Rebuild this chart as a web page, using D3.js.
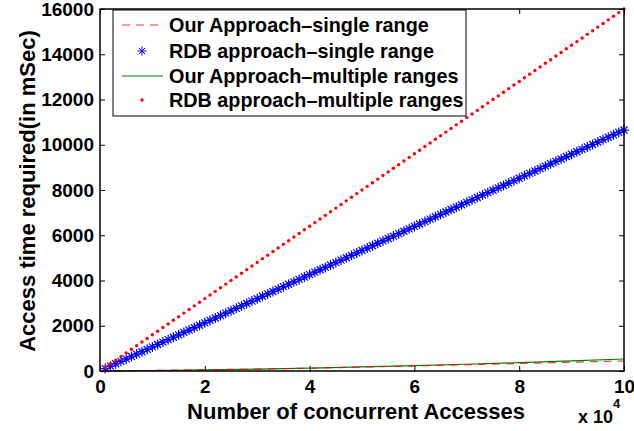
<!DOCTYPE html>
<html>
<head>
<meta charset="utf-8">
<script src="https://cdn.jsdelivr.net/npm/d3@7"></script>
<style>
body{margin:0;background:#fff}
text{font-family:"Liberation Sans",Arial,Helvetica,sans-serif;font-weight:bold;fill:#000}
</style>
</head>
<body>
<svg id="chart" width="634" height="431"></svg>
<script>
// number of concurrent accesses for the marker series
var accesses = [1000,2000,3000,4000,5000,6000,7000,8000,9000,10000,
    11000,12000,13000,14000,15000,16000,17000,18000,19000,20000,
    21000,22000,23000,24000,25000,26000,27000,28000,29000,30000,
    31000,32000,33000,34000,35000,36000,37000,38000,39000,40000,
    41000,42000,43000,44000,45000,46000,47000,48000,49000,50000,
    51000,52000,53000,54000,55000,56000,57000,58000,59000,60000,
    61000,62000,63000,64000,65000,66000,67000,68000,69000,70000,
    71000,72000,73000,74000,75000,76000,77000,78000,79000,80000,
    81000,82000,83000,84000,85000,86000,87000,88000,89000,90000,
    91000,92000,93000,94000,95000,96000,97000,98000,99000,100000]
var rdbSingle = [107,213,320,426,533,639,746,852,959,1065,
    1172,1278,1385,1491,1598,1704,1811,1917,2024,2130,
    2237,2343,2450,2556,2663,2769,2876,2982,3089,3195,
    3302,3408,3515,3621,3728,3834,3941,4047,4154,4260,
    4367,4473,4580,4686,4793,4899,5006,5112,5219,5325,
    5432,5538,5645,5751,5858,5964,6071,6177,6284,6390,
    6497,6603,6710,6816,6923,7029,7136,7242,7349,7455,
    7562,7668,7775,7881,7988,8094,8201,8307,8414,8520,
    8627,8733,8840,8946,9053,9159,9266,9372,9479,9585,
    9692,9798,9905,10011,10118,10224,10331,10437,10544,10650]
var rdbMultiple = [160,320,480,640,800,960,1120,1280,1440,1600,
    1760,1920,2080,2240,2400,2560,2720,2880,3040,3200,
    3360,3520,3680,3840,4000,4160,4320,4480,4640,4800,
    4960,5120,5280,5440,5600,5760,5920,6080,6240,6400,
    6560,6720,6880,7040,7200,7360,7520,7680,7840,8000,
    8160,8320,8480,8640,8800,8960,9120,9280,9440,9600,
    9760,9920,10080,10240,10400,10560,10720,10880,11040,11200,
    11360,11520,11680,11840,12000,12160,12320,12480,12640,12800,
    12960,13120,13280,13440,13600,13760,13920,14080,14240,14400,
    14560,14720,14880,15040,15200,15360,15520,15680,15840,16000]
// line series (our approach)
var lineAccesses = [0,10000,20000,30000,40000,50000,60000,70000,80000,90000,100000]
var oursSingle = [0,22,50,84,125,172,225,280,335,390,442]
var oursMultiple = [0,22,51,86,129,179,235,298,369,446,530]

var xTicks = [0,20000,40000,60000,80000,100000]
var xTickLabels = ["0","2","4","6","8","10"]
var yTicks = [0,2000,4000,6000,8000,10000,12000,14000,16000]
var legendNames = ["Our Approach\u2013single range","RDB approach\u2013single range",
    "Our Approach\u2013multiple ranges","RDB approach\u2013multiple ranges"]

var margin = {left:100,top:9,right:10,bottom:60}
var w = 634-margin.left-margin.right
var h = 431-margin.top-margin.bottom

var svg = d3.select("#chart")
var g = svg.append("g").attr("transform","translate("+margin.left+","+margin.top+")")

var x = d3.scaleLinear().domain([0,100000]).range([0,w])
var y = d3.scaleLinear().domain([0,16000]).range([h,0])

// axes, ticks inward on all four sides
g.append("g").attr("transform","translate(0,"+h+")")
    .call(d3.axisBottom(x).tickValues(xTicks).tickSize(-5).tickPadding(9)
        .tickFormat(function(d,i){return xTickLabels[i]}))
g.append("g")
    .call(d3.axisLeft(y).tickValues(yTicks).tickSize(-5).tickPadding(6).tickFormat(d3.format("d")))
g.append("g")
    .call(d3.axisTop(x).tickValues(xTicks).tickSize(-5).tickFormat(""))
g.append("g").attr("transform","translate("+w+",0)")
    .call(d3.axisRight(y).tickValues(yTicks).tickSize(-5).tickFormat(""))
g.selectAll(".domain").remove()
g.selectAll(".tick line").attr("stroke","#000").attr("stroke-width",1)
g.selectAll(".tick text").style("font-size","19px")

// our approach lines
var line = d3.line().x(function(d){return x(d[0])}).y(function(d){return y(d[1])})
g.append("path").datum(d3.zip(lineAccesses,oursMultiple))
    .attr("d",line).attr("fill","none").attr("stroke","#008000").attr("stroke-width",1.2)
g.append("path").datum(d3.zip(lineAccesses,oursSingle))
    .attr("d",line).attr("fill","none").attr("stroke","#ff0000").attr("stroke-width",1.2)
    .attr("stroke-dasharray","8,6").attr("stroke-opacity",0.8)

function star(s){
    var a = s*0.7
    return "M"+(-s)+",0L"+s+",0M0,"+(-s)+"L0,"+s+
        "M"+(-a)+","+(-a)+"L"+a+","+a+"M"+(-a)+","+a+"L"+a+","+(-a)
}

// rdb single range: stars
g.append("g").selectAll("path")
    .data(d3.zip(accesses,rdbSingle))
    .enter().append("path")
    .attr("transform",function(d){return "translate("+x(d[0])+","+y(d[1])+")"})
    .attr("d",star(5))
    .attr("fill","none").attr("stroke","#0000ff").attr("stroke-width",1.2)

// rdb multiple ranges: dots
g.append("g").selectAll("circle")
    .data(d3.zip(accesses,rdbMultiple))
    .enter().append("circle")
    .attr("cx",function(d){return x(d[0])})
    .attr("cy",function(d){return y(d[1])})
    .attr("r",1.7).attr("fill","#ff0000")

// frame
g.append("rect").attr("width",w).attr("height",h)
    .attr("fill","none").attr("stroke","#000").attr("stroke-width",1.5)

// legend
var lg = g.append("g").attr("transform","translate(13,1)")
lg.append("rect").attr("width",353).attr("height",106)
    .attr("fill","#fff").attr("stroke","#000").attr("stroke-width",1)
var rowY = [15,41,66,90]
lg.append("line").attr("x1",9).attr("x2",50).attr("y1",rowY[0]).attr("y2",rowY[0])
    .attr("stroke","#ff0000").attr("stroke-dasharray","8,6").attr("stroke-opacity",0.8)
lg.append("path").attr("transform","translate(29,"+rowY[1]+")").attr("d",star(4.5))
    .attr("fill","none").attr("stroke","#0000ff")
lg.append("line").attr("x1",9).attr("x2",50).attr("y1",rowY[2]).attr("y2",rowY[2])
    .attr("stroke","#008000").attr("stroke-width",1.2)
lg.append("circle").attr("cx",29).attr("cy",rowY[3]).attr("r",1.7).attr("fill","#ff0000")
lg.selectAll("text.name").data(legendNames).enter().append("text")
    .attr("class","name")
    .attr("x",56).attr("y",function(d,i){return rowY[i]})
    .attr("dy","0.36em")
    .style("font-size","19.8px")
    .text(function(d){return d})

// axis labels
svg.append("text").attr("x",margin.left+w/2-6).attr("y",419)
    .attr("text-anchor","middle").style("font-size","22px")
    .text("Number of concurrent Accesses")
svg.append("text").attr("transform","translate(35,"+(margin.top+h/2+1)+") rotate(-90)")
    .attr("text-anchor","middle").style("font-size","22px")
    .text("Access time required(in mSec)")
var mult = svg.append("text").attr("x",578).attr("y",423).style("font-size","18px")
mult.append("tspan").text("x 10")
mult.append("tspan").attr("dy",-15).style("font-size","13px").text("4")
</script>
</body>
</html>
